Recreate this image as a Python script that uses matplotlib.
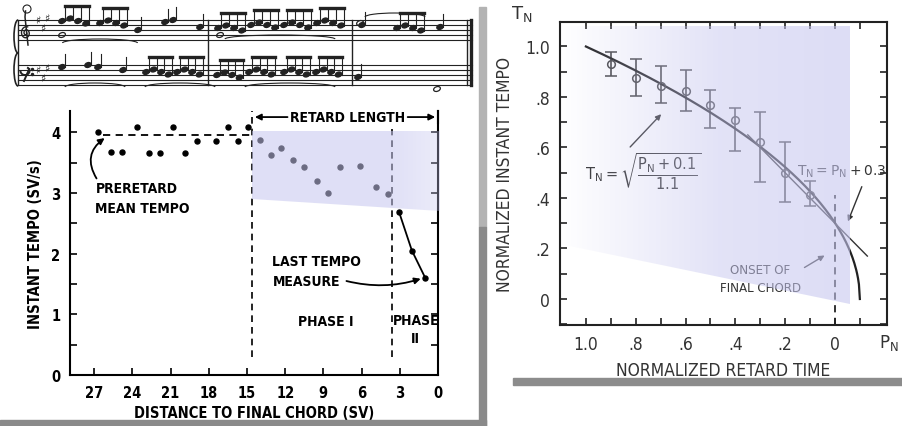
import numpy as np
import matplotlib
matplotlib.use("Agg")
import matplotlib.pyplot as plt
from matplotlib.patches import Polygon, Rectangle, Ellipse, Arc

W, H = 902, 427

# left panel: instant tempo vs distance to final chord (SV)
pre_x = [26.7, 25.7, 24.8, 23.65, 22.7, 21.8, 20.8, 19.9, 18.9, 17.4, 16.5, 15.7, 14.95]
pre_y = [4.0, 3.67, 3.67, 4.08, 3.66, 3.65, 4.08, 3.66, 3.85, 3.85, 4.09, 3.85, 4.09]
ret_x = [14.0, 13.1, 12.3, 11.35, 10.5, 9.5, 8.6, 7.7, 6.1, 4.9, 3.9]
ret_y = [3.87, 3.63, 3.74, 3.54, 3.43, 3.2, 3.0, 3.43, 3.44, 3.1, 2.98]
ph2_x = [3.05, 2.05, 1.0]
ph2_y = [2.68, 2.05, 1.6]
pre_mean = 3.95
retard_start = 14.6
phase_split = 3.6
dist_ticks = [27, 24, 21, 18, 15, 12, 9, 6, 3, 0]

# right panel: normalized tempo vs normalized retard time
pn = [0.9, 0.8, 0.7, 0.6, 0.5, 0.4, 0.3, 0.2, 0.1]
tn = [0.93, 0.875, 0.845, 0.825, 0.77, 0.71, 0.62, 0.50, 0.41]
tn_lo = [0.882, 0.803, 0.775, 0.743, 0.676, 0.587, 0.462, 0.386, 0.37]
tn_hi = [0.98, 0.95, 0.924, 0.907, 0.829, 0.756, 0.739, 0.623, 0.469]
fit_off, fit_div = 0.1, 1.1      # T_N = sqrt((P_N + 0.1) / 1.1)
lin_off = 0.3                    # T_N = P_N + 0.3
pn_major = [1.0, 0.8, 0.6, 0.4, 0.2, 0.0]
pn_labels = ['1.0', '.8', '.6', '.4', '.2', '0']
tn_major = [0.0, 0.2, 0.4, 0.6, 0.8, 1.0]
tn_labels = ['0', '.2', '.4', '.6', '.8', '1.0']

plt.rcParams['font.family'] = 'DejaVu Sans'
INK = '#222222'
COND = 'condensed'


def box(l, t, r, b):
    return [l / W, 1 - b / H, (r - l) / W, (b - t) / H]


fig = plt.figure(figsize=(W / 100, H / 100), dpi=100)
fig.patch.set_facecolor('white')

# ---- score excerpt (decoration) ----
sc = fig.add_axes(box(8, 3, 478, 97))
sc.set_xlim(8, 478)
sc.set_ylim(97, 3)
sc.axis('off')
for y0 in (21, 66):
    for i in range(5):
        sc.plot([18, 472], [y0 + 5 * i] * 2, color=INK, lw=0.8)
for x in (18, 208, 352, 467):
    sc.plot([x, x], [21, 86], color=INK, lw=1.0)
sc.plot([471, 471], [21, 86], color=INK, lw=2.4)
# brace
sc.add_patch(Arc((18, 37.5), 8, 33, theta1=90, theta2=270, lw=1.2, color=INK))
sc.add_patch(Arc((18, 70.5), 8, 33, theta1=90, theta2=270, lw=1.2, color=INK))
# treble clef (drawn, no installed font has the glyph)
t = np.linspace(0, 3.6 * np.pi, 120)
r = 1.5 + 0.9 * t
sc.plot(26 + 0.45 * r * np.cos(t), 34 + 0.55 * r * np.sin(t), color=INK, lw=1.0)
sc.plot([28, 25, 25.5], [46, 18, 12], color=INK, lw=1.1)
# bass clef
sc.add_patch(Arc((25, 72), 9, 8, theta1=-60, theta2=180, lw=1.4, color=INK))
sc.plot([29.2, 24], [70, 82], color=INK, lw=1.4)
sc.plot([32, 32], [69.5, 74.5], 'o', color=INK, ms=1.5)
for y0, ks in ((21, [0, 7.5, -2.5]), (66, [5, 12.5, 2.5])):
    for j, k in enumerate(ks):
        sc.text(38 + 4.5 * j, y0 + k, '\u266F', fontsize=8, ha='center', va='center', color=INK)
sc.add_patch(Ellipse((27, 10), 8, 8, fill=False, lw=0.8, color=INK))


def beam_group(x0, ys, dx):
    xs = [x0 + dx * i for i in range(len(ys))]
    for x, y in zip(xs, ys):
        sc.add_patch(Ellipse((x, y), 6.5, 4.6, angle=-20, color=INK))
    top = min(ys) - 13
    for x, y in zip(xs, ys):
        sc.plot([x + 3, x + 3], [y, top], color=INK, lw=0.8)
    sc.plot([xs[0] + 3, xs[-1] + 3], [top, top], color=INK, lw=2.4)


pat = [0, -2.5, 0, 2.5]
for x0, base in ((62, 22), (100, 24), (218, 29), (251, 26), (284, 26), (317, 24), (397, 29)):
    beam_group(x0, [base + q for q in pat], 8)
for x0, base in ((146, 73), (177, 73), (217, 76), (249, 73), (284, 73), (316, 73)):
    beam_group(x0, [base + q for q in pat], 7.5)
for x, y in ((138, 31), (165, 23), (173, 21), (200, 28), (362, 26), (440, 28),
             (62, 68), (88, 66), (98, 68), (123, 71), (358, 78)):
    sc.add_patch(Ellipse((x, y), 6.5, 4.6, angle=-20, color=INK))
    sc.plot([x + 3, x + 3], [y, y - 13], color=INK, lw=0.8)
for x, y in ((62, 36), (220, 36), (360, 24), (437, 90)):
    sc.add_patch(Ellipse((x, y), 7, 4.6, angle=-20, fill=False, lw=0.9, color=INK))
for cx, cy, w in ((100, 44, 75), (280, 40, 110), (395, 18, 60), (95, 88, 60), (180, 88, 70), (290, 88, 90)):
    sc.add_patch(Arc((cx, cy), w, 8, theta1=180, theta2=360, lw=0.8, color=INK))

# ---- left panel ----
ax1 = fig.add_axes(box(70, 112, 438, 376))
ax1.set_xlim(28.9, 0)
ax1.set_ylim(0, 4.35)
ax1.spines['top'].set_visible(False)
for s in ('left', 'bottom', 'right'):
    ax1.spines[s].set_linewidth(1.5)
ax1.set_xticks(dist_ticks, [str(v) for v in dist_ticks], fontweight='bold', fontstretch=COND)
ax1.set_yticks([0, 1, 2, 3, 4], ['0', '1', '2', '3', '4'], fontweight='bold', fontstretch=COND)
ax1.set_yticks(np.arange(0.5, 4.5, 1), minor=True)
ax1.tick_params(which='both', direction='in', right=True, length=5, width=1.2,
                labelsize=10.5, pad=7)
ax1.plot(pre_x, pre_y, 'o', color='k', ms=3.6)
ax1.plot(ret_x, ret_y, 'o', color='k', ms=3.6)
ax1.plot(ph2_x, ph2_y, 'o-', color='k', ms=3.6, lw=1.3)
ax1.hlines(pre_mean, 26.3, retard_start, color='k', lw=1.3, linestyles=(0, (4, 3)))
ax1.vlines(retard_start, 0.3, 4.35, color='k', lw=1.2, linestyles=(0, (4, 3)), clip_on=False)
ax1.vlines(phase_split, 0.3, 4.05, color='k', lw=1.2, linestyles=(0, (4, 3)))
ax1.set_xlabel('DISTANCE TO FINAL CHORD (SV)', fontsize=10.5, fontweight='bold',
               fontstretch=COND, labelpad=4)
ax1.set_ylabel('INSTANT TEMPO (SV/s)', fontsize=10.5, fontweight='bold',
               fontstretch=COND, labelpad=6)
tkw = dict(fontsize=10, fontweight='bold', fontstretch=COND)
ax1.text(7.1, 4.25, 'RETARD LENGTH', ha='center', va='center', **tkw)
akw = dict(arrowstyle='-|>', color='k', lw=1.3, mutation_scale=9)
ax1.annotate('', xy=(retard_start, 4.25), xytext=(11.6, 4.25), arrowprops=akw, annotation_clip=False)
ax1.annotate('', xy=(0.0, 4.25), xytext=(2.6, 4.25), arrowprops=akw, annotation_clip=False)
ax1.plot([0, 0], [4.15, 4.35], color='k', lw=1.5, clip_on=False)
ax1.text(26.9, 2.92, 'PRERETARD\nMEAN TEMPO', ha='left', va='center', linespacing=1.5, **tkw)
ax1.annotate('', xy=(26.0, 3.93), xytext=(26.7, 3.2),
             arrowprops=dict(arrowstyle='-|>', color='k', lw=1.3, mutation_scale=9,
                             connectionstyle='arc3,rad=-0.5'))
ax1.text(13.0, 1.71, 'LAST TEMPO\nMEASURE', ha='left', va='center', linespacing=1.5, **tkw)
ax1.annotate('', xy=(1.15, 1.6), xytext=(7.4, 1.56),
             arrowprops=dict(arrowstyle='-|>', color='k', lw=1.3, mutation_scale=9,
                             connectionstyle='arc3,rad=0.15'))
ax1.text(8.8, 0.89, 'PHASE I', ha='center', va='center', **tkw)
ax1.text(1.75, 0.76, 'PHASE\nII', ha='center', va='center', linespacing=1.4, **tkw)

# ---- right panel ----
dark = '#333333'
ax2 = fig.add_axes(box(560, 23, 887, 326))
ax2.set_xlim(1.104, -0.209)
ax2.set_ylim(-0.103, 1.097)
for s in ax2.spines.values():
    s.set_linewidth(1.5)
    s.set_color(INK)
ax2.set_xticks(pn_major, pn_labels, fontstretch=COND)
ax2.set_xticks(np.arange(-0.1, 1.0, 0.2), minor=True)
ax2.set_yticks(tn_major, tn_labels, fontstretch=COND)
ax2.set_yticks(np.arange(-0.1, 1.0, 0.2), minor=True)
ax2.tick_params(which='both', direction='in', top=True, right=True, length=5, width=1.2,
                color=INK, labelcolor=dark, labelsize=12.5, pad=7)
ax2.errorbar(pn, tn, yerr=[np.subtract(tn, tn_lo), np.subtract(tn_hi, tn)], fmt='o',
             mfc='none', mec='#444', mew=1.1, ms=5.5, ecolor='#444', elinewidth=1.2,
             capsize=4, capthick=1.2)
p = np.linspace(1.0, -fit_off, 300)
ax2.plot(p, np.sqrt((p + fit_off) / fit_div), color=INK, lw=1.6)
lp = np.array([0.35, -0.13])
ax2.plot(lp, lp + lin_off, color=dark, lw=1.0)
ax2.vlines(0.0, -0.103, 0.41, color=INK, lw=1.3, linestyles=(0, (4, 3)))
ax2.set_xlabel('NORMALIZED RETARD TIME', fontsize=12.5, color=dark, fontstretch=COND, labelpad=6)
ax2.set_ylabel('NORMALIZED INSTANT TEMPO', fontsize=12.5, color=dark, fontstretch=COND, labelpad=8)
ax2.text(0.771, 0.507, r'$\mathregular{T_N=\sqrt{\dfrac{P_N+0.1}{1.1}}}$', ha='center',
         va='center', fontsize=10.5, color=dark)
ax2.annotate('', xy=(0.69, 0.74), xytext=(0.83, 0.594),
             arrowprops=dict(arrowstyle='-|>', color=dark, lw=1.0, mutation_scale=8))
ax2.text(-0.028, 0.507, r'$\mathregular{T_N=P_N+0.3}$', ha='center', va='center',
         fontsize=10, color=dark)
ax2.annotate('', xy=(-0.048, 0.297), xytext=(-0.112, 0.455),
             arrowprops=dict(arrowstyle='-|>', color=dark, lw=1.0, mutation_scale=8),
             annotation_clip=False)
ax2.text(0.30, 0.08, 'ONSET OF\nFINAL CHORD', ha='center', va='center', fontsize=9.5,
         color=dark, linespacing=1.5, fontstretch=COND)
ax2.annotate('', xy=(0.032, 0.178), xytext=(0.132, 0.119),
             arrowprops=dict(arrowstyle='-|>', color=dark, lw=1.0, mutation_scale=8))
fig.text(522 / W, 1 - 14 / H, r'$\mathregular{T_N}$', fontsize=13, color=dark, ha='center', va='center')
fig.text(889 / W, 1 - 343 / H, r'$\mathregular{P_N}$', fontsize=12, color=dark, ha='center', va='center')

# ---- frames, shadows and lavender highlight ----
ov = fig.add_axes([0, 0, 1, 1], zorder=5)
ov.set_xlim(0, W)
ov.set_ylim(H, 0)
ov.axis('off')
ov.patch.set_visible(False)
ov.add_patch(Rectangle((0, 421), 486, 6, color='#8a8a8a'))
ov.add_patch(Rectangle((479, 8), 7, 220, color='#b3b3b3'))
ov.add_patch(Rectangle((479, 228), 7, 199, color='#8a8a8a'))
ov.add_patch(Rectangle((513, 379), W - 513, 7, color='#8c8c8c'))

lav = np.array([0.78, 0.78, 0.94])


def highlight(pts, x0, x1, alphas):
    poly = Polygon(pts, closed=True, fc='none', ec='none')
    ov.add_patch(poly)
    n = 300
    xs = np.linspace(x0, x1, n)
    a = np.interp(xs, alphas[0], alphas[1])
    img = np.zeros((1, n, 4))
    img[..., :3] = lav
    img[0, :, 3] = a
    ys = [q[1] for q in pts]
    im = ov.imshow(img, extent=(x0, x1, max(ys), min(ys)), aspect='auto',
                   interpolation='bilinear', zorder=3)
    im.set_clip_path(poly)


highlight([(252, 132), (440, 132), (440, 212), (252, 200)], 252, 440,
          ([252, 390, 440], [0.55, 0.55, 0.35]))
highlight([(560, 27), (850, 27), (850, 305), (560, 245)], 560, 850,
          ([560, 590, 720, 850], [0.0, 0.1, 0.5, 0.6]))
ov.set_xlim(0, W)
ov.set_ylim(H, 0)

fig.savefig('out.png', dpi=100)
